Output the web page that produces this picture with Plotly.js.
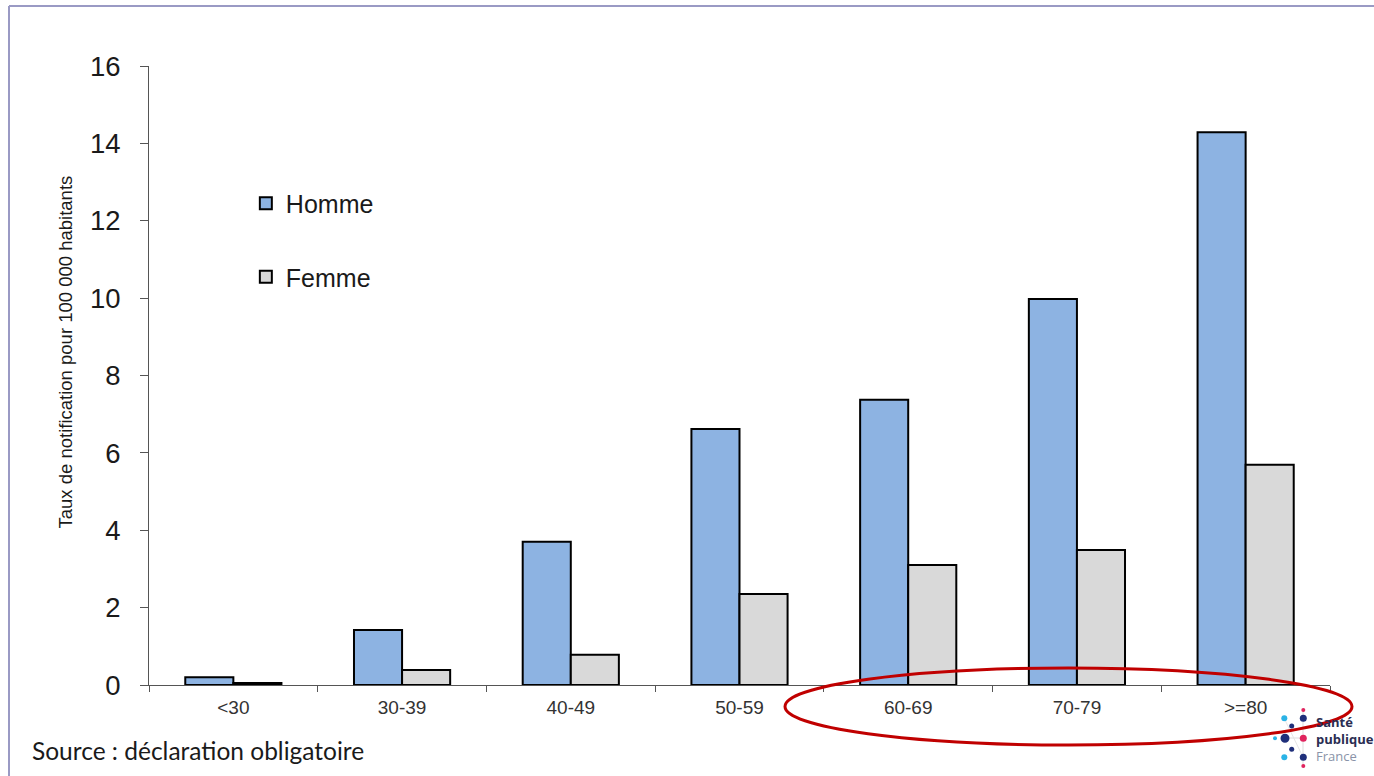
<!DOCTYPE html>
<html>
<head>
<meta charset="utf-8">
<script src="https://cdn.plot.ly/plotly-3.0.1.min.js"></script>
<style>html,body{margin:0;padding:0;background:#fff;}#chart{width:1374px;height:776px;}</style>
</head>
<body>
<div id="chart"></div>
<script>
const categories = ['<30', '30-39', '40-49', '50-59', '60-69', '70-79', '>=80'];
const homme = [0.2, 1.42, 3.7, 6.62, 7.37, 9.98, 14.29];
const femme = [0.05, 0.39, 0.78, 2.35, 3.1, 3.49, 5.69];
const yTickValues = [0, 2, 4, 6, 8, 10, 12, 14, 16];
const yTitle = 'Taux de notification pour 100 000 habitants';
const sourceText = 'Source : déclaration obligatoire';
const seriesNames = ['Homme', 'Femme'];
const logoLines = ['Santé', 'publique', 'France'];

const traces = [
  {type: 'bar', name: seriesNames[0], x: categories, y: homme, legendgroup: 'h',
   marker: {color: '#8db3e2', line: {color: '#000', width: 2}}},
  {type: 'bar', name: seriesNames[1], x: categories, y: femme, legendgroup: 'f',
   marker: {color: '#d9d9d9', line: {color: '#000', width: 2}}}
];

// decorative shapes positioned in pixels from the plot's bottom-left corner (149,685)
const L = 149, B = 685;
function dot(cx, cy, r, color) {
  return {type: 'circle', xref: 'paper', yref: 'paper', xsizemode: 'pixel', ysizemode: 'pixel',
    xanchor: 0, yanchor: 0, x0: cx - L - r, x1: cx - L + r, y0: B - cy - r, y1: B - cy + r,
    fillcolor: color, line: {width: 0}};
}
function seg(xa, ya, xb, yb, color, w) {
  return {type: 'line', xref: 'paper', yref: 'paper', xsizemode: 'pixel', ysizemode: 'pixel',
    xanchor: 0, yanchor: 0, x0: xa - L, x1: xb - L, y0: B - ya, y1: B - yb,
    line: {color: color, width: w}};
}
const navy = '#1f2f7a', cyan = '#2bb3e6', pink = '#e0245e';
const shapes = [
  seg(9, 6, 1374, 6, '#9a9ac4', 2),
  seg(9, 6, 9, 776, '#9a9ac4', 2),
  seg(1285, 738, 1303, 738, '#dddddd', 1),
  seg(1303, 710, 1303, 766, '#dddddd', 1),
  seg(1284, 718, 1303, 757, '#e6e6e6', 1),
  dot(1303.3, 710, 2, pink),
  dot(1284.3, 718.3, 3, cyan),
  dot(1303.3, 718.3, 3.5, navy),
  dot(1291.7, 726, 2.5, navy),
  dot(1275, 738.3, 2, cyan),
  dot(1285, 738.3, 4.5, navy),
  dot(1303.3, 738.3, 3.5, pink),
  dot(1291.7, 749.3, 2.5, navy),
  dot(1284.3, 757.3, 3, cyan),
  dot(1303.3, 757.3, 3.5, navy),
  dot(1303.3, 766, 2, pink),
  {type: 'circle', xref: 'paper', yref: 'paper', xsizemode: 'pixel', ysizemode: 'pixel',
   xanchor: 0, yanchor: 0, x0: 785 - L, x1: 1352 - L, y0: B - 745, y1: B - 668,
   line: {color: '#c00000', width: 3}, layer: 'above'}
];

const annotations = [
  {text: yTitle, textangle: -90, xref: 'paper', yref: 'paper', x: 0, y: 0,
   xshift: 64.5 - L, yshift: B - 352, xanchor: 'center', yanchor: 'middle', showarrow: false,
   font: {size: 18.5, color: '#1a1a1a'}},
  {text: sourceText, xref: 'paper', yref: 'paper', x: 0, y: 0, xshift: 30 - L, yshift: -(750 - B),
   xanchor: 'left', yanchor: 'middle', showarrow: false,
   font: {family: 'Lato, "Open Sans", sans-serif', size: 24.5, color: '#1a1a1a'}},
  {text: '<b>' + logoLines[0] + '</b><br><b>' + logoLines[1] + '</b><br><span style="color:#8a93a8">' + logoLines[2] + '</span>',
   xref: 'paper', yref: 'paper', x: 0, y: 0, xshift: 1314 - L, yshift: -(739 - B),
   xanchor: 'left', yanchor: 'middle', align: 'left', showarrow: false,
   font: {family: '"Open Sans", sans-serif', size: 13, color: '#2a2d52'}}
];

const layout = {
  width: 1374, height: 776,
  margin: {l: 149, r: 44, t: 66, b: 91, pad: 0},
  paper_bgcolor: '#ffffff', plot_bgcolor: '#ffffff',
  font: {family: '"Liberation Sans", Arial, sans-serif', color: '#1a1a1a'},
  barmode: 'group', bargap: 0.43, bargroupgap: 0,
  showlegend: true,
  legend: {x: 0.082, y: 0.815, xanchor: 'left', yanchor: 'top', tracegroupgap: 38,
    font: {size: 25, color: '#1a1a1a'}, bgcolor: 'rgba(0,0,0,0)', itemwidth: 30},
  xaxis: {type: 'category', showline: true, linecolor: '#555', linewidth: 1,
    ticks: 'outside', tickson: 'boundaries', ticklen: 6, tickcolor: '#555',
    tickfont: {size: 19, color: '#333'}, ticklabelstandoff: 5,
    showgrid: false, zeroline: false, fixedrange: true},
  yaxis: {range: [0, 16], tickvals: yTickValues, ticktext: yTickValues.map(String),
    showline: true, linecolor: '#555', linewidth: 1,
    ticks: 'outside', ticklen: 8, tickcolor: '#555',
    tickfont: {size: 27.5, color: '#1a1a1a'}, ticklabelstandoff: 14,
    showgrid: false, zeroline: false, fixedrange: true},
  shapes: shapes,
  annotations: annotations
};

Plotly.newPlot('chart', traces, layout, {displayModeBar: false, staticPlot: true});
</script>
</body>
</html>
